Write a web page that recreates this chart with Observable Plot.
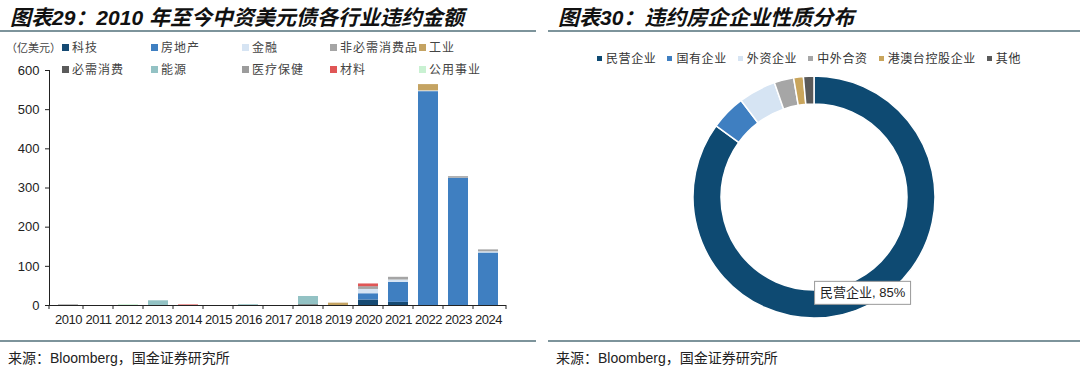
<!DOCTYPE html>
<html><head><meta charset="utf-8">
<script src="https://cdn.jsdelivr.net/npm/d3@7"></script>
<script src="https://cdn.jsdelivr.net/npm/@observablehq/plot@0.6"></script>
<style>
body{margin:0;width:1080px;height:370px;background:#fff;position:relative;overflow:hidden;font-family:"Liberation Sans","Noto Sans CJK SC",sans-serif;color:#222;}
.title{position:absolute;top:1px;font-style:italic;font-weight:bold;font-size:21px;font-family:"Liberation Sans","Noto Sans CJK SC",sans-serif;color:#111;white-space:nowrap;}
.rule{position:absolute;height:2px;background:#7d949b;}
.foot{position:absolute;top:347px;font-size:14px;font-family:"Liberation Sans","Noto Sans CJK SC",sans-serif;color:#222;white-space:nowrap;}
.unit{position:absolute;left:6px;top:39px;font-size:11px;line-height:16px;color:#444;font-family:"Noto Sans CJK SC",sans-serif;white-space:nowrap;z-index:2;}
#lleg{position:absolute;left:0;top:0;z-index:3;}
.litem{position:absolute;display:flex;align-items:center;font-size:12px;letter-spacing:1px;color:#444;font-family:"Noto Sans CJK SC",sans-serif;white-space:nowrap;line-height:16px;padding-right:2px;}
.litem i{display:inline-block;width:7px;height:7px;margin-right:3px;}
#rleg{position:absolute;left:597px;top:50px;display:flex;gap:11px;font-size:12px;letter-spacing:0.6px;color:#333;font-family:"Noto Sans CJK SC",sans-serif;white-space:nowrap;line-height:16px;z-index:3;}
#rleg span{display:flex;align-items:center;}
#rleg i{display:inline-block;width:5px;height:5px;margin-right:4px;}
#left{position:absolute;left:0;top:40px;z-index:1;}
#right{position:absolute;left:555px;top:67px;z-index:1;}
</style></head>
<body>
<div class="title" style="left:10px">图表29：2010 年至今中资美元债各行业违约金额</div>
<div class="title" style="left:558px">图表30：违约房企企业性质分布</div>
<div class="rule" style="left:0;width:536px;top:30px"></div>
<div class="rule" style="left:548px;width:532px;top:30px"></div>
<div class="rule" style="left:0;width:536px;top:340px"></div>
<div class="rule" style="left:548px;width:532px;top:340px"></div>
<div class="foot" style="left:8px">来源：Bloomberg，国金证券研究所</div>
<div class="foot" style="left:556px">来源：Bloomberg，国金证券研究所</div>
<div class="unit">（亿美元）</div>
<div id="lleg"></div>
<div id="left"></div>
<div id="rleg"></div>
<div id="right"></div>
<script>
// ---- Left chart data ----
const years = ["2010","2011","2012","2013","2014","2015","2016","2017","2018","2019","2020","2021","2022","2023","2024"];
const sectors = ["科技","房地产","金融","非必需消费品","工业","必需消费","能源","医疗保健","材料","公用事业"];
const sectorColors = ["#164a73","#3f7fc1","#d6e4f3","#a5a5a5","#c4a362","#5b5b5b","#93c2c4","#9c9c9c","#e05656","#c9f1d2"];
const techVals      = [0,0,0,0,0,0,0,0,0,0,14,8,0,0,0];
const realEstate    = [0,0,0,0,0,0,0,0,0,0,16,51,546,325,134];
const finance       = [0,0,0,0,0,0,0,0,0,0,11,6,2,0,3];
const consDisc      = [0,0,0,0,0,0,0,0,0,0,5,7,0,4,5];
const industrial    = [0,0,0,0,0,0,0,0,0,6,0,0,16,0,0];
const consStaples   = [1,0,0,0,0,0,0,0,2,0,0,0,0,0,0];
const energy        = [0,0,0,12,0,0,2,0,21,0,0,0,0,0,0];
const healthcare    = [0,0,0,0,0,0,0,0,0,0,2,0,0,0,0];
const materials     = [0,0,0,0,1.5,0,0,0,0,0,7,0,0,0,0];
const utilities     = [0,0,2,0,0,0,0,0,0,0,0,0,0,0,0];
const yTicks = [0,100,200,300,400,500,600];
const seriesList = [techVals,realEstate,finance,consDisc,industrial,consStaples,energy,healthcare,materials,utilities];

// ---- Right chart data ----
const ownerTypes = ["民营企业","国有企业","外资企业","中外合资","港澳台控股企业","其他"];
const ownerShares = [85,4.7,5,2.6,1.3,1.4];
const ownerColors = ["#0e4a72","#3f7fc1","#d6e4f3","#a6a6a6","#c9a55c","#5a5a5a"];
const labelText = "民营企业, 85%";

// table for bars
const rows = [];
sectors.forEach((s,si)=>years.forEach((y,yi)=>{ if(seriesList[si][yi]>0) rows.push({year:y, sector:s, value:seriesList[si][yi]}); }));

// left legend
const lleg = document.getElementById("lleg");
const colX = [62,151,242,330,419];
sectors.forEach((s,i)=>{
  const d = document.createElement("div");
  d.className="litem";
  d.style.left = colX[i%5]+"px";
  d.style.top = (i<5?39:61)+"px";
  d.innerHTML = `<i style="background:${sectorColors[i]}"></i>${s}`;
  lleg.appendChild(d);
});

const W = 540, H = 295, ML = 49, MR = 34, MT = 30, MB = 30;
const chart = Plot.plot({
  width: W, height: H,
  marginLeft: ML, marginRight: MR, marginTop: MT, marginBottom: MB,
  style: {fontFamily: "'Liberation Sans', Arial, sans-serif", fontSize: "13px", color: "#222", background: "transparent"},
  x: {domain: years, paddingInner: 0.34, paddingOuter: 0.17, label: null},
  y: {domain: [0,600], label: null},
  color: {domain: sectors, range: sectorColors},
  marks: [
    Plot.barY(rows, {x: "year", y: "value", fill: "sector", order: sectors}),
    Plot.axisY({ticks: yTicks, tickSize: 4, tickPadding: 6, label: null, stroke: "#222", fontSize: 13}),
    Plot.axisX({tickSize: 0, tickPadding: 9, label: null, fontSize: 13}),
    Plot.ruleY([0], {stroke: "#222", strokeWidth: 1})
  ]
});
document.getElementById("left").appendChild(chart);
// y axis line and band boundary ticks from the plot's scales
{
  const xs = chart.scale("x"), ys = chart.scale("y");
  const svg = d3.select(chart);
  svg.selectAll("g[aria-label='x-axis tick label']").style("letter-spacing","-0.45px");
  const g = svg.append("g").attr("stroke","#222");
  g.append("line").attr("x1",ML+0.5).attr("x2",ML+0.5).attr("y1",ys.apply(600)).attr("y2",ys.apply(0));
  const bounds = [ML];
  for (let i=0;i<years.length-1;i++) bounds.push((xs.apply(years[i])+xs.bandwidth+xs.apply(years[i+1]))/2);
  bounds.push(W-MR);
  bounds.forEach(b=>g.append("line").attr("x1",b).attr("x2",b).attr("y1",ys.apply(0)).attr("y2",ys.apply(0)+4));
}

// right legend
const rleg = document.getElementById("rleg");
ownerTypes.forEach((t,i)=>{
  const s = document.createElement("span");
  s.innerHTML = `<i style="background:${ownerColors[i]}"></i>${t}`;
  rleg.appendChild(s);
});

// donut
const ownerColor = Plot.scale({color: {type: "ordinal", domain: ownerTypes, range: ownerColors}});
const donut = Plot.plot({
  width: 520, height: 260, margin: 0,
  style: {background: "transparent"},
  marks: [
    (index, scales, values, dims) => {
      const cx = 259, cy = 130, rOut = 121, rIn = 93;
      const pie = d3.pie().sort(null).value((d,i)=>ownerShares[i])(ownerTypes);
      const arc = d3.arc().innerRadius(rIn).outerRadius(rOut);
      const g = d3.create("svg:g").attr("transform",`translate(${cx},${cy})`);
      g.selectAll("path").data(pie).join("path")
        .attr("d", arc).attr("fill", d=>ownerColor.apply(d.data))
        .attr("stroke","#fff").attr("stroke-width",1.5);
      const c = arc.centroid(pie[0]);
      const lg = g.append("g").attr("transform",`translate(${c[0]},${c[1]})`);
      lg.append("rect").attr("x",-48).attr("y",-11).attr("width",96).attr("height",23)
        .attr("fill","#fff").attr("stroke","#999").attr("stroke-width",1);
      lg.append("text").attr("x",0).attr("y",0).attr("dy","0.35em").attr("text-anchor","middle")
        .attr("font-size",13).attr("fill","#222").attr("font-family","'Liberation Sans','Noto Sans CJK SC',sans-serif").text(labelText);
      return g.node();
    }
  ]
});
document.getElementById("right").appendChild(donut);
</script>
</body></html>
